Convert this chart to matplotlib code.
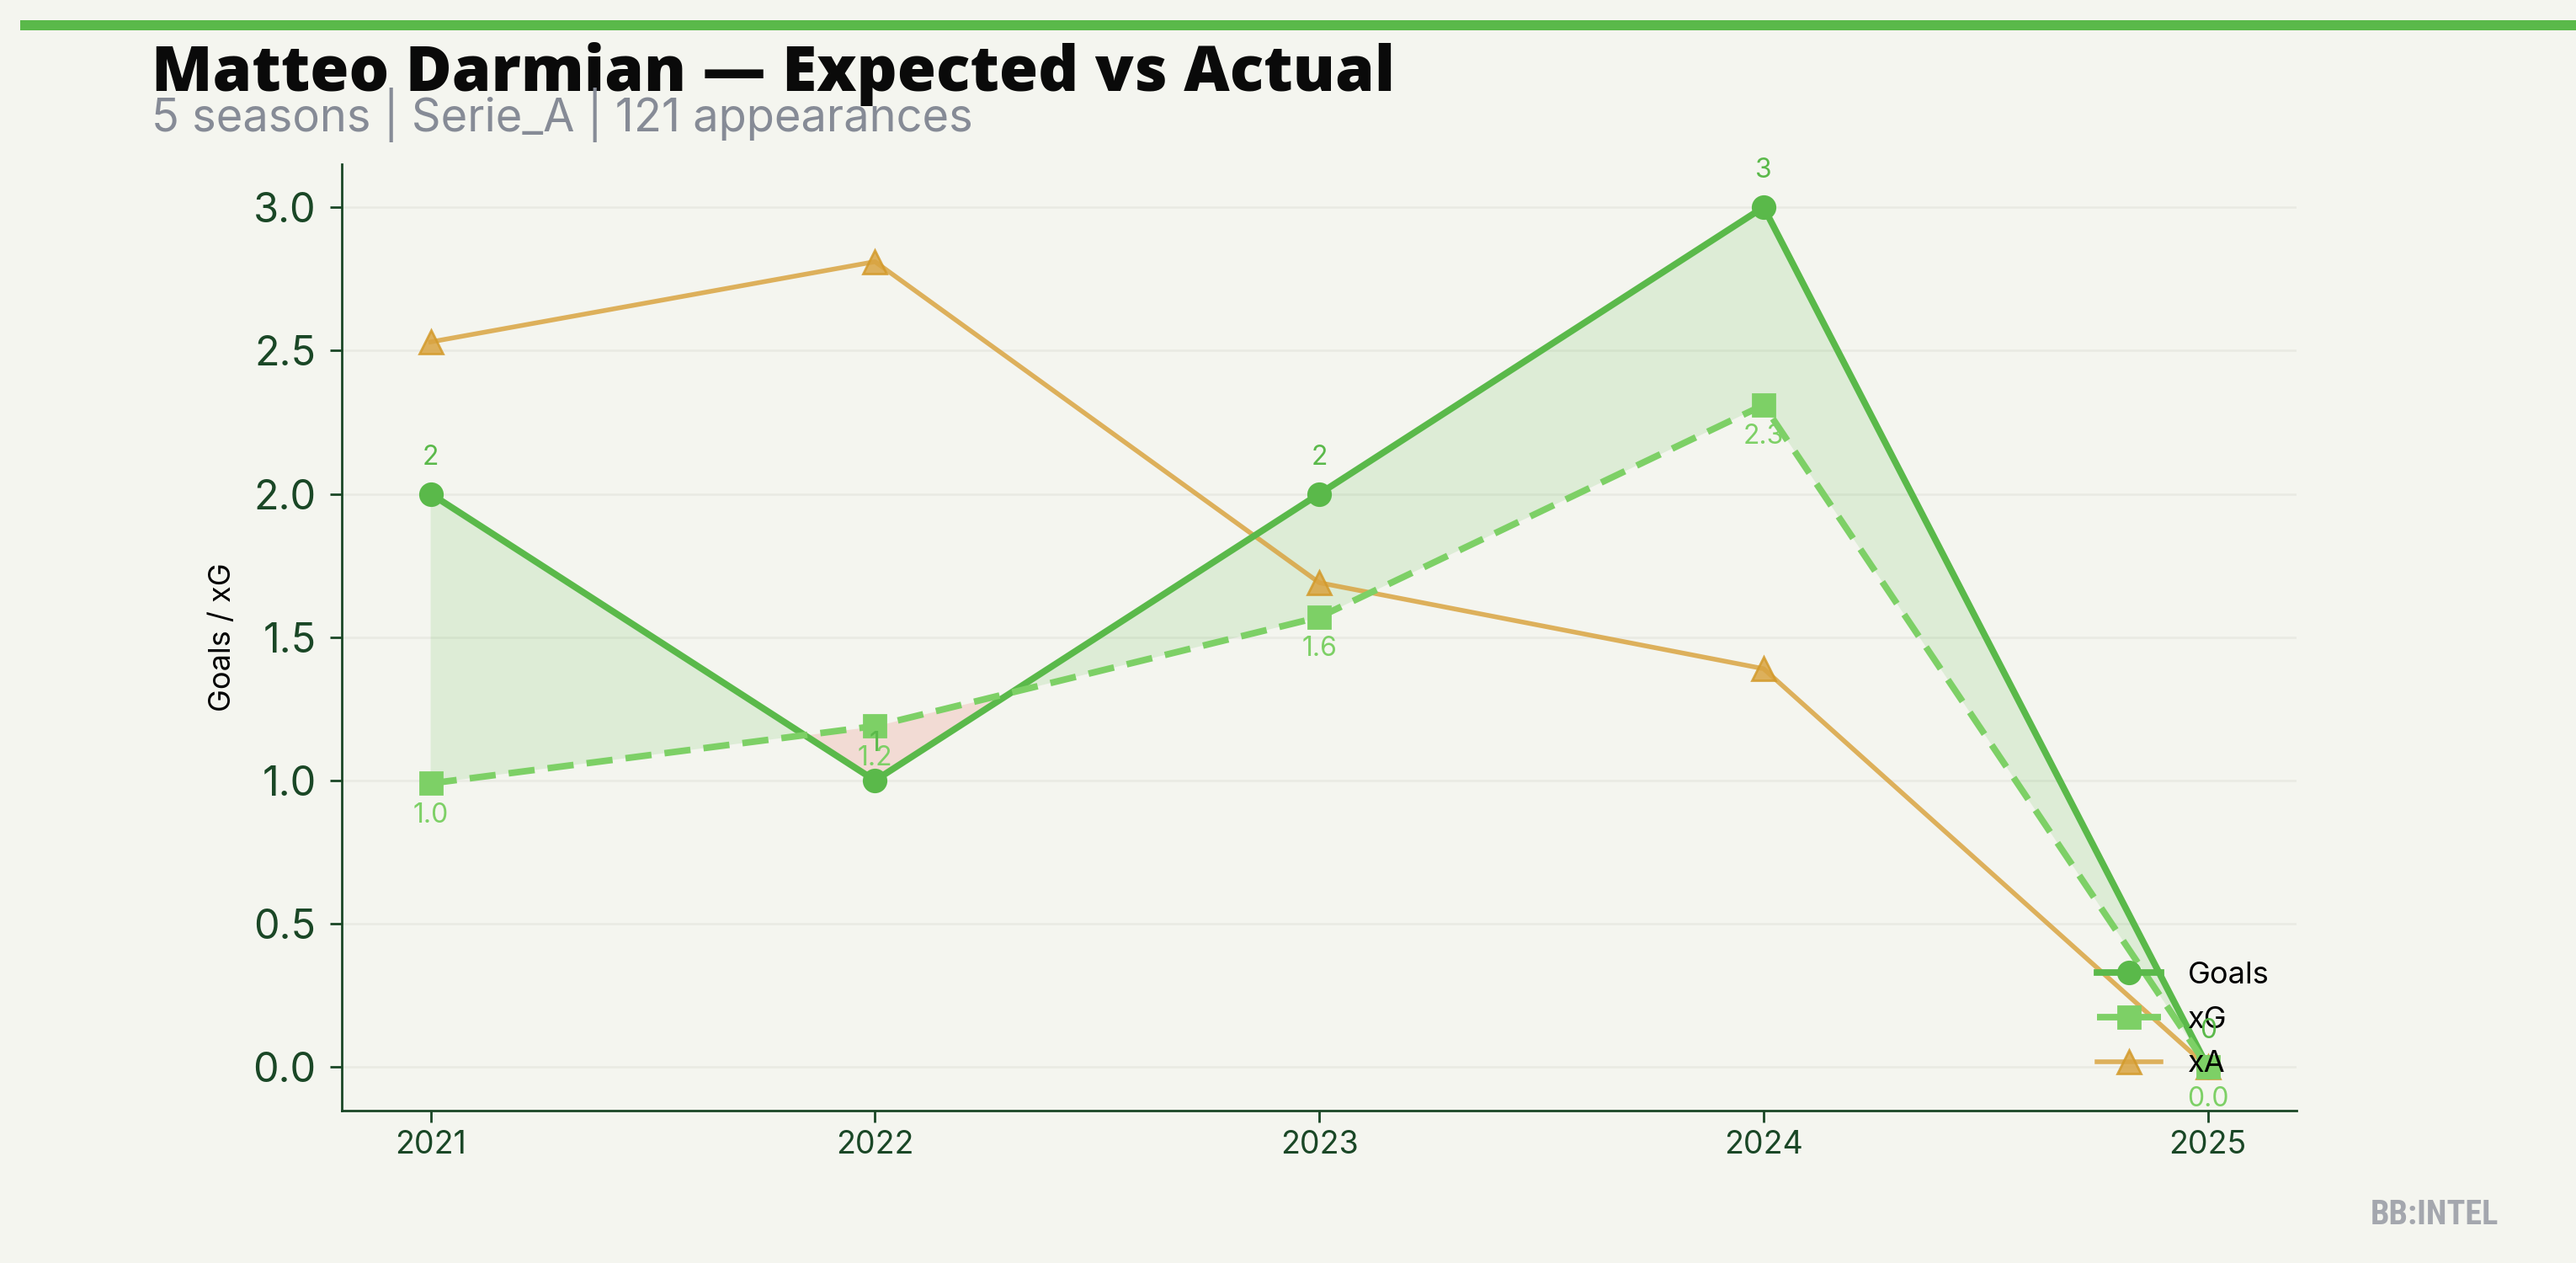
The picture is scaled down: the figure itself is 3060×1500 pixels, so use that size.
import matplotlib
matplotlib.use("Agg")
import matplotlib.pyplot as plt
from matplotlib.patches import Rectangle
import numpy as np

seasons = [2021, 2022, 2023, 2024, 2025]
goals = [2, 1, 2, 3, 0]
xg = [0.99, 1.19, 1.57, 2.31, 0.0]
xa = [2.53, 2.81, 1.69, 1.39, 0.0]

title = "Matteo Darmian \u2014 Expected vs Actual"
subtitle = "5 seasons | Serie_A | 121 appearances"
ylabel = "Goals / xG"
watermark = "BB:INTEL"

BG = "#f4f5ef"
C_GOALS = "#5ab94a"
C_XG = "#7dd066"
C_XA = "#d9a441"
DARK = "#1a4726"

plt.rcParams['font.family'] = ['Inter', 'DejaVu Sans']

fig = plt.figure(figsize=(15.3, 7.5), dpi=200, facecolor=BG)
ax = fig.add_axes([0.1327, 0.121, 0.7589, 0.749])
ax.set_facecolor(BG)

x = np.array(seasons)
g = np.array(goals, dtype=float)
e = np.array(xg, dtype=float)

ax.fill_between(x, g, e, where=g >= e, interpolate=True, color=C_GOALS, alpha=0.15, lw=0)
ax.fill_between(x, g, e, where=g < e, interpolate=True, color="#e74c3c", alpha=0.15, lw=0)

ax.plot(x, g, color=C_GOALS, lw=2.8, marker='o', markersize=9.5, label="Goals", zorder=4)
ax.plot(x, e, color=C_XG, lw=2.8, ls='--', dashes=(4, 2), marker='s', markersize=9.5, label="xG", zorder=4)
ax.plot(x, xa, color=C_XA, lw=2.0, marker='^', markersize=10, alpha=0.85,
        markeredgecolor="#d39a2a", label="xA", zorder=3)

for xi, gi in zip(x, goals):
    ax.annotate(f"{gi}", (xi, gi), xytext=(0, 10), textcoords='offset points',
                ha='center', va='bottom', fontsize=11.5, color=C_GOALS, zorder=6)
for xi, ei in zip(x, xg):
    ax.annotate(f"{ei:.1f}", (xi, ei), xytext=(0, -8), textcoords='offset points',
                ha='center', va='top', fontsize=11.5, color=C_XG, zorder=6)

ax.set_xticks(seasons)
ax.set_xticklabels([str(s) for s in seasons])
ax.tick_params(axis='x', labelsize=13.5, colors=DARK, length=5, width=1)
ax.tick_params(axis='y', labelsize=17.5, colors=DARK, length=5, width=1, pad=6)
ax.set_ylabel(ylabel, fontsize=13, color='black', labelpad=7)

for s in ['top', 'right']:
    ax.spines[s].set_visible(False)
for s in ['left', 'bottom']:
    ax.spines[s].set_color(DARK)
    ax.spines[s].set_linewidth(1.0)

ax.grid(axis='y', color='#e9eae3', lw=0.9)
ax.set_axisbelow(True)
ax.margins(x=0.05, y=0.05)

leg = ax.legend(loc='lower right', bbox_to_anchor=(1.0, 0.005), frameon=False,
                fontsize=13, handlelength=2.1, labelspacing=0.55, handletextpad=0.9)
for t in leg.get_texts():
    t.set_color('black')

fig.add_artist(Rectangle((24 / 3060, 1 - 36 / 1500), 1.0, 12 / 1500,
                         transform=fig.transFigure, color=C_GOALS, lw=0))

fig.text(0.0587, 0.928, title, fontsize=27, fontweight=800,
         family=['Open Sans', 'DejaVu Sans'], color='#0a0a0a', ha='left', va='baseline')
fig.text(0.0587, 0.896, subtitle, fontsize=19.5, color='#868b96', ha='left', va='baseline')
fig.text(0.97, 0.025, watermark, fontsize=14.5, fontweight='bold', color='#a4a7ae',
         ha='right', va='bottom', family=['Roboto Condensed', 'Roboto', 'DejaVu Sans'])

fig.savefig("out.png", dpi=200, facecolor=BG)
